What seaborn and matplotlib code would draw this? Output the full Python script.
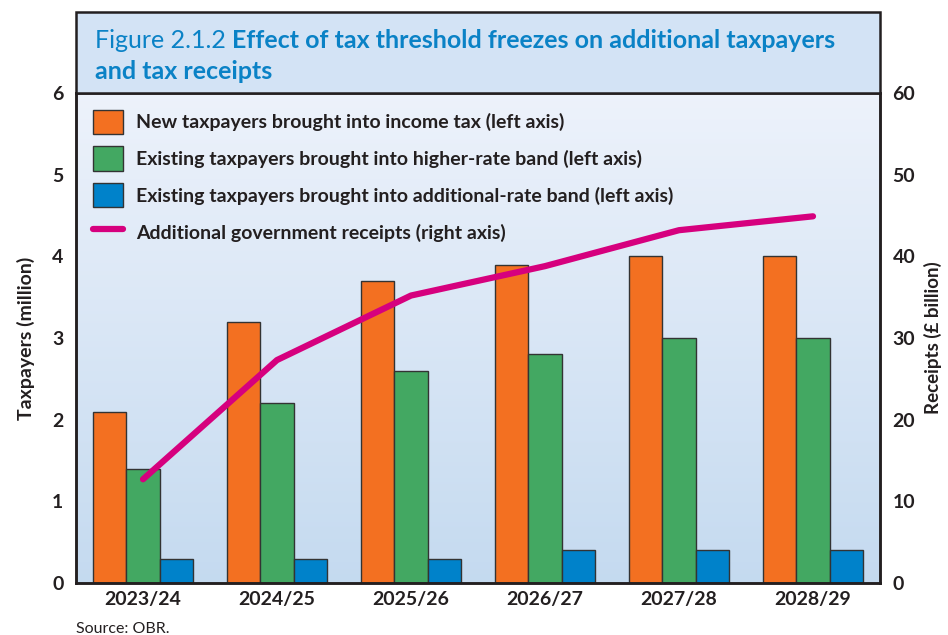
import numpy as np
import pandas as pd
import matplotlib.pyplot as plt
from matplotlib.patches import Rectangle, Patch
from matplotlib.lines import Line2D
import seaborn as sns

sns.set_style("white")
plt.rcParams['font.family'] = ['Lato', 'DejaVu Sans']

#Chart data
years = ["2023/24", "2024/25", "2025/26", "2026/27", "2027/28", "2028/29"]
new_taxpayers = [2.1, 3.2, 3.7, 3.9, 4.0, 4.0]
higher_rate = [1.4, 2.2, 2.6, 2.8, 3.0, 3.0]
additional_rate = [0.3, 0.3, 0.3, 0.4, 0.4, 0.4]
receipts = [12.7, 27.3, 35.2, 38.8, 43.2, 44.9]

series_names = ["New taxpayers brought into income tax (left axis)",
                "Existing taxpayers brought into higher-rate band (left axis)",
                "Existing taxpayers brought into additional-rate band (left axis)"]
line_name = "Additional government receipts (right axis)"
colours = ["#f37021", "#43a862", "#0082ca"]
pink = "#d6007e"
ink = "#231f20"
title_blue = "#0a82c6"

df = pd.DataFrame({"year": years * 3,
                   "value": new_taxpayers + higher_rate + additional_rate,
                   "series": [s for s in series_names for _ in years]})

W, H = 948, 635
fig = plt.figure(figsize=(W / 100, H / 100), dpi=100)
fig.patch.set_facecolor("white")

#Main axes in pixel coords
left, right, top, bottom = 76, 880, 93, 583
ax = fig.add_axes([left / W, 1 - bottom / H, (right - left) / W, (bottom - top) / H])

#Gradient background
grad = np.linspace(0, 1, 256).reshape(-1, 1)
top_c = np.array([0.93, 0.95, 0.985])
bot_c = np.array([0.77, 0.855, 0.94])
img = top_c[None, None, :] * (1 - grad[:, :, None]) + bot_c[None, None, :] * grad[:, :, None]
ax.imshow(img, extent=[0, 1, 0, 1], transform=ax.transAxes, aspect="auto", zorder=0)

sns.barplot(data=df, x="year", y="value", hue="series", palette=colours,
            width=0.75, saturation=1, edgecolor="#333333", linewidth=1.0,
            gap=0, ax=ax, legend=False, zorder=2)

ax.set_xlim(-0.5, 5.5)
ax.set_ylim(0, 6)
ax.set_yticks(range(0, 7))
ax.set_xlabel("")
ax.set_ylabel("Taxpayers (million)", fontsize=14, fontweight="bold", color=ink, labelpad=12)
ax.tick_params(axis="both", length=0, labelsize=14, colors=ink)
ax.tick_params(axis="x", pad=6)
ax.tick_params(axis="y", pad=9)
for lab in ax.get_xticklabels() + ax.get_yticklabels():
    lab.set_fontweight("bold")

ax2 = ax.twinx()
sns.lineplot(x=np.arange(len(years)), y=receipts, ax=ax2, color=pink,
             linewidth=4.5, sort=False, zorder=3)
ax2.set_ylim(0, 60)
ax2.set_yticks(range(0, 61, 10))
ax2.set_ylabel("Receipts (£ billion)", fontsize=13.5, fontweight="bold", color=ink, labelpad=6)
ax2.tick_params(axis="y", length=0, labelsize=14, colors=ink, pad=9)
for lab in ax2.get_yticklabels():
    lab.set_fontweight("bold")
ax2.set_xlim(-0.5, 5.5)

for a in (ax, ax2):
    for s in a.spines.values():
        s.set_color(ink)
        s.set_linewidth(1.8)
ax.spines["top"].set_color("#555555")
ax.spines["top"].set_linewidth(1.2)

#Legend
handles = [Patch(facecolor=c, edgecolor="#333333", linewidth=1.0) for c in colours]
handles.append(Line2D([0], [0], color=pink, linewidth=4.5))
leg = ax2.legend(handles, series_names + [line_name], loc="upper left",
                 bbox_to_anchor=(0.0, 1.0), frameon=False, fontsize=14,
                 handlelength=1.55, handleheight=1.55, handletextpad=0.7,
                 labelspacing=0.64, borderaxespad=0.45)
for t in leg.get_texts():
    t.set_color(ink)
    t.set_fontweight("bold")

#Title box
box_top = 12
fig.patches.append(Rectangle((left / W, 1 - top / H), (right - left) / W, (top - box_top) / H,
                             transform=fig.transFigure, facecolor="#d3e3f5",
                             edgecolor=ink, linewidth=1.8, zorder=0))
t1 = fig.text(95 / W, 1 - 48 / H, "Figure 2.1.2 ", fontsize=18, color=title_blue)
fig.canvas.draw()
bb = t1.get_window_extent()
fig.text(bb.x1 / W, 1 - 48 / H, "Effect of tax threshold freezes on additional taxpayers",
         fontsize=18, color=title_blue, fontweight="bold")
fig.text(95 / W, 1 - 79 / H, "and tax receipts", fontsize=18, color=title_blue,
         fontweight="bold")

fig.text(76 / W, 1 - 633 / H, "Source: OBR.", fontsize=11.5, color=ink)

fig.savefig("out.png", dpi=100)
